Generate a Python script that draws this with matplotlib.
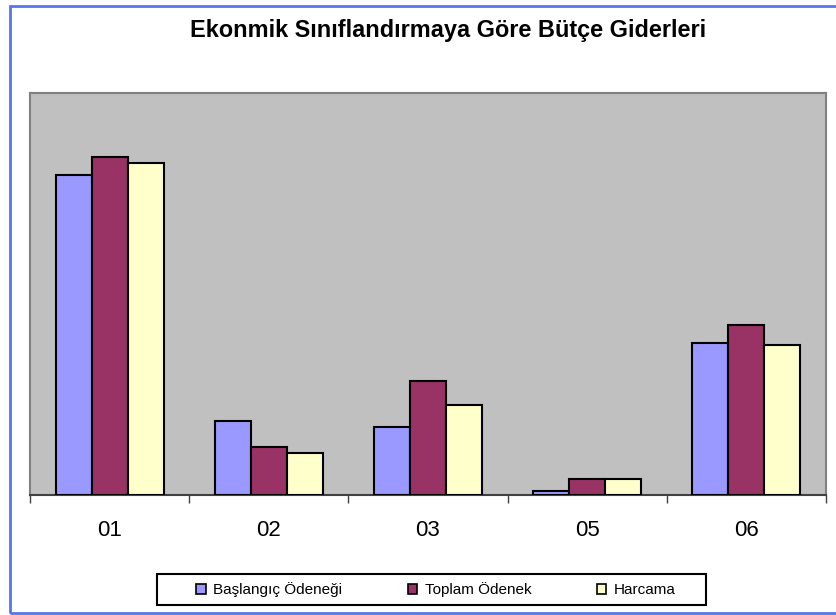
import numpy as np
import matplotlib.pyplot as plt
from matplotlib.patches import Rectangle

plt.rcParams['font.family'] = ['Liberation Sans', 'DejaVu Sans']

categories = ['01', '02', '03', '05', '06']
series_names = ['Başlangıç Ödeneği', 'Toplam Ödenek', 'Harcama']
baslangic = [320, 74, 68, 4, 152]
toplam = [338, 48, 114, 16, 170]
harcama = [332, 42, 90, 16, 150]
colors = ['#9999FF', '#993366', '#FFFFCC']

fig = plt.figure(figsize=(8.37, 6.15), dpi=100)
ax = fig.add_axes([30 / 837, 120 / 615, 796 / 837, 402 / 615])
ax.set_facecolor('#C0C0C0')

x = np.arange(len(categories))
width = 0.226
for i, (vals, name) in enumerate(zip([baslangic, toplam, harcama], series_names)):
    ax.bar(x + (i - 1) * width, vals, width, color=colors[i], edgecolor='black',
           linewidth=1.5, label=name, zorder=3)

ax.set_xlim(-0.5, len(categories) - 0.5)
ax.set_ylim(0, 402)
ax.set_yticks([])

# category labels in the middle, tick marks on the boundaries
ax.set_xticks(x)
ax.set_xticklabels(categories, fontsize=16)
ax.tick_params(axis='x', which='major', length=0, pad=18)
ax.set_xticks(np.arange(-0.5, len(categories), 1), minor=True)
ax.tick_params(axis='x', which='minor', length=6, width=1, color='#404040')

for side in ['left', 'top', 'right']:
    ax.spines[side].set_color('#808080')
    ax.spines[side].set_linewidth(1.5)
ax.spines['bottom'].set_color('#404040')
ax.spines['bottom'].set_linewidth(1.5)

fig.text(448 / 837, 1 - 30 / 615, 'Ekonmik Sınıflandırmaya Göre Bütçe Giderleri',
         ha='center', va='center', fontsize=16.9, fontweight='bold')

leg = fig.legend(loc='center', ncol=3,
                 bbox_to_anchor=(436 / 837, 1 - 590 / 615),
                 fontsize=11, frameon=False,
                 handlelength=0.6, handleheight=0.6, handletextpad=0.5,
                 columnspacing=4.3, borderpad=0)
for h in leg.legend_handles:
    h.set_edgecolor('black')
    h.set_linewidth(1.2)

# legend box
fig.patches.append(Rectangle((157 / 837, 1 - 605 / 615), 549 / 837, 31 / 615,
                             transform=fig.transFigure, fill=False,
                             edgecolor='black', linewidth=1.5))

# outer chart border
fig.patches.append(Rectangle((9.5 / 837, 1 - 612.5 / 615), 1.0, 607 / 615,
                             transform=fig.transFigure, fill=False,
                             edgecolor='#5577EE', linewidth=2))

fig.savefig('out.png', dpi=100)
